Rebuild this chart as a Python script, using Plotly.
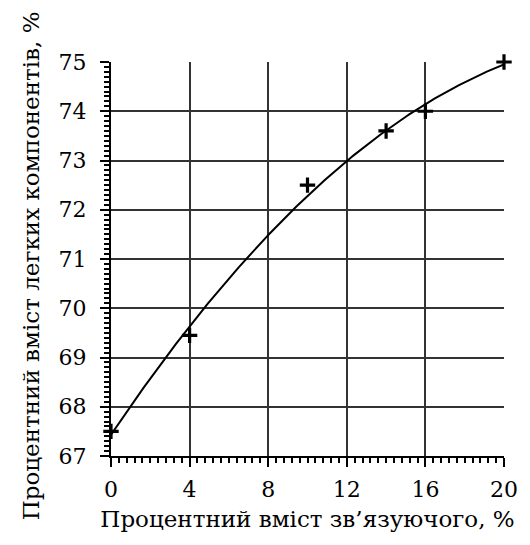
import numpy as np
import plotly.graph_objects as go

# Binder content (%) and resulting volatile-component content (%)
binder_pct = [0, 4, 10, 14, 16, 20]
volatile_pct = [67.5, 69.45, 72.5, 73.6, 74.0, 75.0]

x_ticks = [0, 4, 8, 12, 16, 20]
y_ticks = [67, 68, 69, 70, 71, 72, 73, 74, 75]

x_title = "Процентний вміст зв’язуючого, %"
y_title = "Процентний вміст легких компонентів, %"

# Second-order trend line through the measurements
coef = np.polyfit(binder_pct, volatile_pct, 2)
xs = np.linspace(min(binder_pct), max(binder_pct), 200)
ys = np.polyval(coef, xs)

font = dict(family="DejaVu Serif, Liberation Serif, serif", color="black")

fig = go.Figure()
fig.add_trace(go.Scatter(x=xs, y=ys, mode="lines",
                         line=dict(color="black", width=2), hoverinfo="skip"))
fig.add_trace(go.Scatter(x=binder_pct, y=volatile_pct, mode="markers",
                         cliponaxis=False,
                         marker=dict(symbol="cross-thin", size=11,
                                     line=dict(color="black", width=3.2))))

axis_common = dict(
    showline=True, linecolor="black", linewidth=2,
    showgrid=True, gridcolor="#333333", gridwidth=1.5,
    ticks="outside", ticklen=9, tickwidth=2, tickcolor="black",
    zeroline=False, tickfont=dict(size=22, **font),
)

fig.update_xaxes(range=[0, 20], tickvals=x_ticks, title_text=x_title,
                 title_font=dict(size=23, **font),
                 minor=dict(dtick=0.4, ticks="outside", ticklen=5,
                            tickwidth=1.5, tickcolor="black", showgrid=False),
                 ticklabelstandoff=4, title_standoff=9, **axis_common)
fig.update_yaxes(range=[67, 75], tickvals=y_ticks,
                 minor=dict(dtick=0.1, ticks="outside", ticklen=5,
                            tickwidth=1.5, tickcolor="black", showgrid=False),
                 ticklabelstandoff=9, **axis_common)

# Vertical axis title placed as a rotated annotation
fig.add_annotation(text=y_title, textangle=-90, showarrow=False,
                   xref="paper", yref="paper", x=-0.203, y=0.482,
                   xanchor="center", yanchor="middle",
                   font=dict(size=23, **font))

fig.update_layout(
    width=530, height=545,
    margin=dict(l=111, r=17, t=62, b=89),
    plot_bgcolor="white", paper_bgcolor="white",
    showlegend=False, font=font,
)

fig.write_html("out.html")
